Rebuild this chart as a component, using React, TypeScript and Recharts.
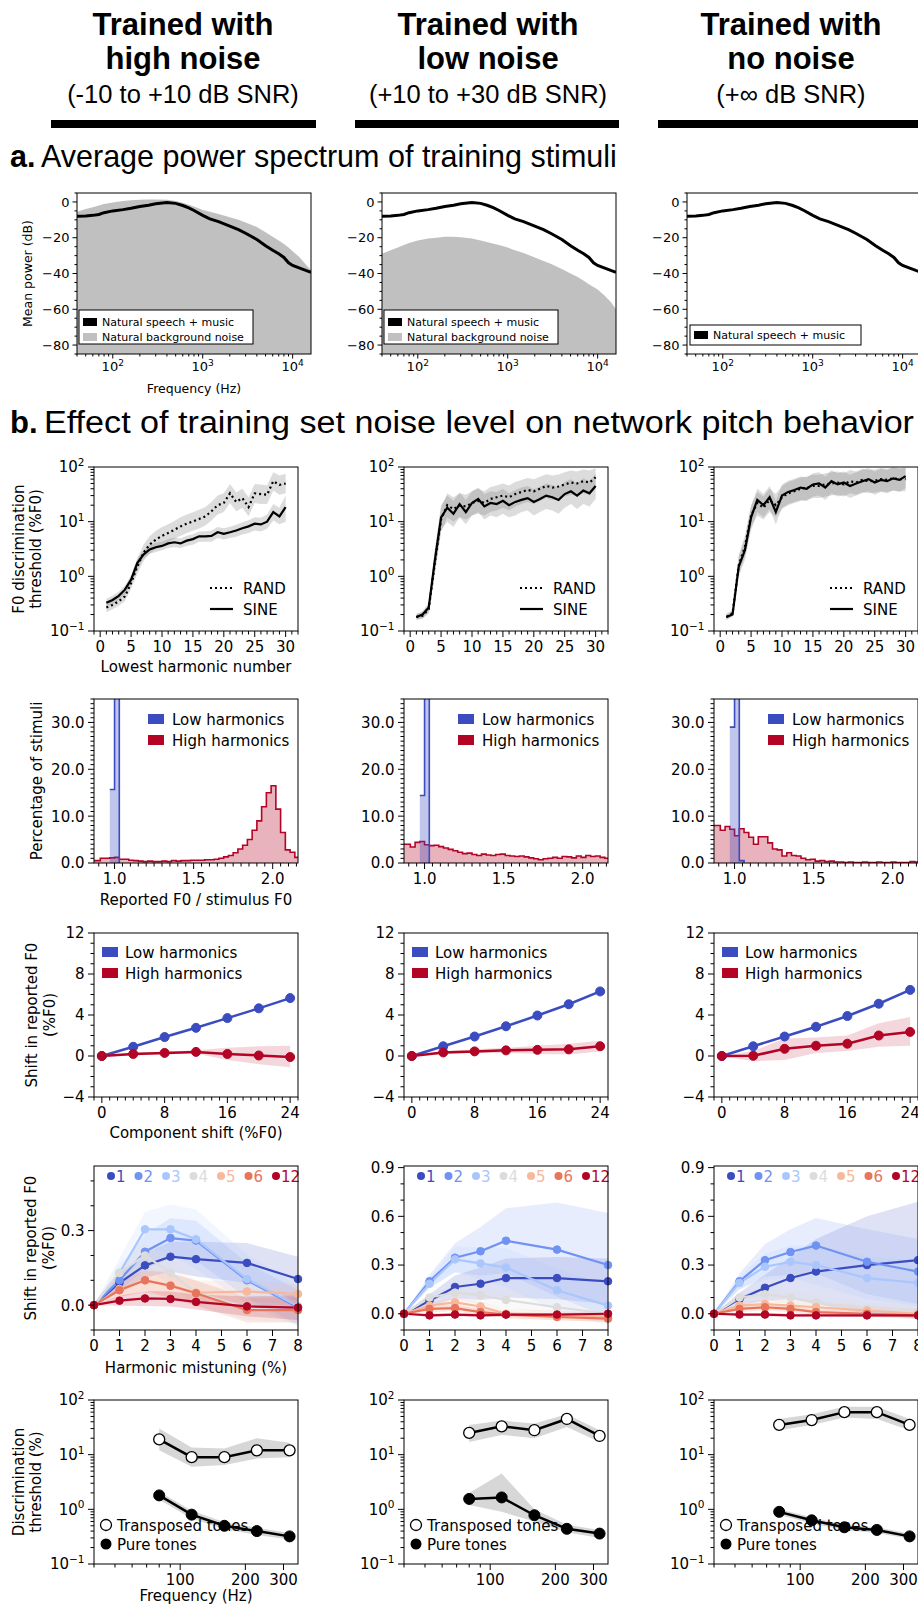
import React from 'react';
import { ComposedChart, Line, Area, XAxis, YAxis } from 'recharts';

const SANS = "'DejaVu Sans', Verdana, sans-serif";
const HEAD = "'Liberation Sans', Arial, Helvetica, sans-serif";
const BLUE = '#3b4cc0';
const RED = '#b40426';
const SILVER = '#c0c0c0';

// ---------- header ----------
const COL_TITLES = [
  ['Trained with', 'high noise', '(-10 to +10 dB SNR)'],
  ['Trained with', 'low noise', '(+10 to +30 dB SNR)'],
  ['Trained with', 'no noise', '(+\u221e dB SNR)'],
];

// ---------- a. power spectra ----------
const FREQ_A = [40, 50, 60, 70, 80, 100, 130, 160, 200, 250, 300, 400, 500, 600, 700, 800, 1000, 1200, 1500, 2000, 2500, 3000, 4000, 5000, 6000, 7000, 8000, 9000, 10000, 12000, 14000, 16000];
const SPEECH_DB = [-8, -7.8, -7.5, -7, -6, -5, -4.3, -3.5, -2.5, -1.8, -1, -0.3, -0.8, -2, -3.3, -4.8, -7.5, -9.5, -11, -13.5, -15.5, -17.5, -21, -24.5, -27, -29, -31, -34, -35.5, -37, -38.3, -39.3];
const NOISE_HIGH_DB = [-5.5, -4, -3, -2, -1.2, -0.3, 0.5, 1, 1.2, 1.3, 1.3, 1.2, 0.5, -0.5, -1.5, -2.5, -4.5, -5.5, -6.8, -8.5, -10, -11.5, -14, -17, -19.5, -21.5, -23.5, -25.5, -27.5, -31, -35, -38];
const NOISE_LOW_DB = [-29, -27, -25.5, -24, -23, -21.5, -20.5, -20, -19.5, -19.5, -19.7, -20.5, -21.5, -22.5, -23.3, -24, -25.5, -27, -28.5, -31, -33, -34.5, -37.5, -40, -42, -44, -46, -47.5, -49, -52.5, -56, -60];
const NOISE_DB = [NOISE_HIGH_DB, NOISE_LOW_DB, null];
const A_XMAJ = [100, 1000, 10000];
const A_YMAJ = [0, -20, -40, -60, -80];

// ---------- b1. thresholds vs lowest harmonic ----------
const HARM_N = [1, 2, 3, 4, 5, 6, 7, 8, 9, 10, 11, 12, 13, 14, 15, 16, 17, 18, 19, 20, 21, 22, 23, 24, 25, 26, 27, 28, 29, 30];
const SINE_1 = [0.33, 0.37, 0.44, 0.57, 0.87, 1.75, 2.5, 3.1, 3.4, 3.6, 4.0, 4.2, 4.0, 4.5, 4.8, 5.4, 5.4, 5.5, 6.4, 6.0, 6.4, 6.9, 7.6, 8.2, 9.2, 8.9, 10.0, 15.0, 12.5, 18.5];
const SINE_1_LO = [0.28, 0.31, 0.37, 0.47, 0.7, 1.4, 2.1, 2.6, 2.8, 3.0, 3.3, 3.4, 3.3, 3.6, 3.8, 4.3, 4.3, 4.3, 5.0, 4.7, 5.0, 5.3, 5.8, 6.2, 6.9, 6.6, 7.4, 10.5, 9.0, 10.0];
const SINE_1_HI = [0.39, 0.44, 0.52, 0.68, 1.05, 2.1, 3.0, 3.7, 4.1, 4.3, 4.8, 5.1, 4.9, 5.5, 5.9, 6.6, 6.7, 6.9, 8.0, 7.6, 8.1, 8.8, 9.8, 10.6, 12.0, 11.8, 13.5, 21.0, 18.0, 30.0];
const RAND_1 = [0.27, 0.30, 0.35, 0.43, 0.75, 1.5, 2.7, 3.8, 4.7, 5.5, 6.2, 7.1, 8.2, 9.2, 10.1, 11.2, 12.5, 15.5, 20, 22, 33, 23, 27, 18.5, 33, 32, 31, 55, 47, 50];
const RAND_1_LO = [0.22, 0.25, 0.29, 0.35, 0.6, 1.1, 1.9, 2.6, 3.2, 3.7, 4.2, 4.8, 5.5, 6.2, 6.8, 7.5, 8.5, 10.5, 13.5, 15, 22, 15.5, 18, 12.5, 22, 21, 21, 37, 31, 33];
const RAND_1_HI = [0.33, 0.37, 0.43, 0.53, 0.95, 2.1, 3.8, 5.4, 6.8, 8.0, 9.0, 10.3, 12.0, 13.5, 14.8, 16.5, 18.5, 23, 30, 33, 49, 34, 40, 28, 49, 48, 46, 80, 70, 75];
const SINE_2 = [0.18, 0.2, 0.27, 2.0, 12, 18, 14, 21, 15, 22, 26, 19, 22, 21, 24, 20, 23, 25, 27, 23, 26, 30, 28, 25, 32, 36, 30, 37, 33, 45];
const SINE_2_LO = [0.16, 0.17, 0.22, 1.2, 7, 10, 8, 12, 9, 13, 15, 11, 13, 12, 14, 12, 13, 15, 16, 13, 15, 17, 16, 14, 18, 21, 17, 21, 19, 26];
const SINE_2_HI = [0.2, 0.23, 0.33, 3.2, 20, 30, 24, 34, 25, 36, 42, 32, 36, 35, 40, 33, 38, 42, 45, 39, 44, 50, 47, 42, 54, 60, 50, 62, 55, 75];
const RAND_2 = [0.18, 0.19, 0.25, 1.8, 11, 20, 17, 20, 19, 22, 24, 22, 26, 28, 30, 28, 32, 35, 38, 36, 40, 45, 42, 44, 48, 52, 50, 55, 52, 65];
const RAND_2_LO = [0.16, 0.17, 0.21, 1.1, 6.5, 12, 10, 12, 11, 13, 14, 13, 15, 16, 18, 16, 19, 21, 23, 21, 24, 27, 25, 26, 29, 31, 30, 33, 31, 40];
const RAND_2_HI = [0.21, 0.22, 0.3, 3.0, 18, 33, 28, 33, 31, 36, 40, 36, 43, 46, 50, 46, 53, 58, 63, 60, 66, 74, 70, 73, 80, 86, 83, 90, 86, 95];
const SINE_3 = [0.18, 0.2, 1.5, 3.0, 12, 25, 20, 28, 15, 30, 35, 38, 42, 40, 48, 50, 42, 55, 48, 52, 45, 50, 55, 60, 52, 58, 55, 62, 58, 68];
const SINE_3_LO = [0.16, 0.18, 1.0, 2.0, 7, 15, 12, 17, 9, 18, 21, 23, 25, 24, 29, 30, 25, 33, 29, 31, 27, 30, 33, 36, 31, 35, 33, 37, 35, 41];
const SINE_3_HI = [0.2, 0.23, 2.3, 4.8, 19, 40, 32, 45, 24, 48, 56, 61, 67, 64, 77, 80, 67, 88, 77, 83, 72, 80, 88, 96, 83, 93, 88, 99, 93, 99];
const RAND_3 = [0.18, 0.21, 1.6, 3.5, 13, 22, 18, 25, 20, 28, 33, 36, 40, 42, 45, 45, 48, 50, 52, 48, 55, 52, 58, 55, 56, 60, 58, 62, 60, 60];
const RAND_3_LO = [0.16, 0.19, 1.1, 2.3, 8, 13, 11, 15, 12, 17, 20, 22, 24, 25, 27, 27, 29, 30, 31, 29, 33, 31, 35, 33, 34, 36, 35, 37, 36, 36];
const RAND_3_HI = [0.21, 0.24, 2.4, 5.5, 20, 35, 29, 40, 32, 45, 53, 58, 64, 67, 72, 72, 77, 80, 83, 77, 88, 83, 93, 88, 90, 96, 93, 99, 96, 96];
const SINE = [[SINE_1, SINE_1_LO, SINE_1_HI], [SINE_2, SINE_2_LO, SINE_2_HI], [SINE_3, SINE_3_LO, SINE_3_HI]];
const RAND = [[RAND_1, RAND_1_LO, RAND_1_HI], [RAND_2, RAND_2_LO, RAND_2_HI], [RAND_3, RAND_3_LO, RAND_3_HI]];
const LOG_MAJ = [0.1, 1, 10, 100];

// ---------- b2. histograms of reported F0 / stimulus F0 ----------
const HIST_START = 0.85;
const HIST_STEP = 0.03;
const HIGH_HIST_1 = [0.5, 0.5, 1.0, 1.0, 1.1, 1.2, 0.8, 0.8, 0.6, 0.5, 0.4, 0.3, 0.4, 0.3, 0.3, 0.4, 0.3, 0.5, 0.4, 0.5, 0.5, 0.6, 0.6, 0.6, 0.7, 0.7, 0.8, 1.0, 1.3, 1.6, 2.2, 3.0, 3.8, 5.0, 7.0, 9.0, 12.0, 15.0, 16.5, 11.5, 6.5, 2.8, 2.3, 1.2];
const HIGH_HIST_2 = [4.0, 4.0, 3.4, 4.4, 4.6, 3.9, 3.7, 3.8, 3.5, 3.2, 2.9, 2.6, 2.3, 2.0, 2.1, 1.8, 1.6, 1.9, 1.7, 1.6, 1.8, 1.9, 1.6, 1.5, 1.4, 1.5, 1.3, 1.1, 0.9, 0.7, 0.9, 1.0, 1.2, 1.0, 1.4, 1.3, 1.1, 1.5, 1.2, 1.6, 1.4, 1.5, 1.2, 1.0];
const HIGH_HIST_3 = [8.0, 8.0, 7.0, 7.8, 7.2, 5.8, 7.3, 6.5, 5.5, 4.0, 5.6, 5.6, 4.3, 3.0, 2.8, 1.5, 2.2, 1.6, 1.5, 1.0, 0.7, 0.8, 0.4, 0.5, 0.3, 0.4, 0.2, 0.2, 0.1, 0.2, 0.1, 0.1, 0.2, 0.1, 0.1, 0.2, 0.1, 0.1, 0.2, 0.1, 0.1, 0.1, 0.3, 0.2];
// low harmonics: [bin index, percentage] (all other bins empty)
const LOW_HIST_1 = [[4, 15.7], [5, 80], [6, 0]];
const LOW_HIST_2 = [[4, 14.4], [5, 80], [6, 0]];
const LOW_HIST_3 = [[4, 29], [5, 80], [6, 0.5], [7, 0]];
const HIGH_HIST = [HIGH_HIST_1, HIGH_HIST_2, HIGH_HIST_3];
const LOW_HIST = [LOW_HIST_1, LOW_HIST_2, LOW_HIST_3];

// ---------- b3. component shift ----------
const SHIFTS = [0, 4, 8, 12, 16, 20, 24];
const SHIFT_LOW = [
  [0, 0.9, 1.85, 2.75, 3.7, 4.65, 5.65],
  [0, 0.95, 1.9, 2.9, 3.95, 5.05, 6.3],
  [0, 0.95, 1.9, 2.85, 3.9, 5.1, 6.45],
];
const SHIFT_HIGH = [
  [0, 0.2, 0.3, 0.4, 0.2, 0.05, -0.1],
  [0, 0.35, 0.45, 0.55, 0.6, 0.65, 0.95],
  [0, 0.02, 0.7, 1.0, 1.2, 2.0, 2.35],
];
const SHIFT_HIGH_LO = [
  [0, 0.05, 0.15, 0.25, -0.4, -0.8, -1.1],
  [0, 0.2, 0.3, 0.3, 0.2, 0.15, 0.45],
  [0, -0.5, -0.4, 0.3, 0.5, 0.9, 1.0],
];
const SHIFT_HIGH_HI = [
  [0, 0.35, 0.45, 0.55, 0.8, 0.95, 1.0],
  [0, 0.5, 0.65, 0.8, 1.0, 1.2, 1.5],
  [0, 0.5, 1.7, 1.8, 2.0, 3.2, 3.8],
];

// ---------- b4. harmonic mistuning ----------
const MISTUNE = [0, 1, 2, 3, 4, 6, 8];
const HARM_LABELS = ['1', '2', '3', '4', '5', '6', '12'];
const HARM_COLORS = ['#3b4cc0', '#6f92f3', '#aac7fd', '#dddcdc', '#f7b89c', '#e7745b', '#b40426'];
const MIST_MEAN_1 = [
  [0, 0.09, 0.16, 0.195, 0.185, 0.17, 0.105],
  [0, 0.1, 0.215, 0.27, 0.26, 0.1, -0.01],
  [0, 0.13, 0.305, 0.305, 0.265, 0.105, -0.005],
  [0, 0.13, 0.2, 0.13, 0.05, -0.01, -0.02],
  [0, 0.065, 0.1, 0.08, 0.05, 0.055, 0.045],
  [0, 0.06, 0.1, 0.078, 0.048, -0.02, -0.02],
  [0, 0.018, 0.027, 0.025, 0.013, -0.005, -0.01],
];
const MIST_ERR_1 = [
  [0, 0.03, 0.05, 0.06, 0.07, 0.08, 0.09],
  [0, 0.04, 0.07, 0.08, 0.08, 0.07, 0.07],
  [0, 0.06, 0.07, 0.1, 0.12, 0.1, 0.08],
  [0, 0.04, 0.05, 0.05, 0.05, 0.05, 0.05],
  [0, 0.03, 0.05, 0.05, 0.05, 0.04, 0.04],
  [0, 0.03, 0.04, 0.05, 0.05, 0.05, 0.05],
  [0, 0.02, 0.03, 0.03, 0.03, 0.04, 0.05],
];
const MIST_MEAN_2 = [
  [0, 0.08, 0.165, 0.185, 0.22, 0.22, 0.2],
  [0, 0.2, 0.345, 0.385, 0.45, 0.395, 0.3],
  [0, 0.185, 0.335, 0.31, 0.285, 0.145, 0.05],
  [0, 0.1, 0.13, 0.115, 0.085, 0.04, 0.0],
  [0, 0.05, 0.07, 0.045, 0.0, -0.01, -0.02],
  [0, 0.03, 0.035, 0.01, -0.005, -0.02, -0.03],
  [0, -0.01, -0.005, -0.01, -0.005, -0.005, 0.0],
];
const MIST_ERR_2 = [
  [0, 0.04, 0.07, 0.1, 0.12, 0.13, 0.14],
  [0, 0.04, 0.09, 0.15, 0.2, 0.29, 0.32],
  [0, 0.03, 0.08, 0.1, 0.12, 0.13, 0.12],
  [0, 0.02, 0.04, 0.05, 0.05, 0.05, 0.05],
  [0, 0.02, 0.03, 0.03, 0.03, 0.03, 0.03],
  [0, 0.02, 0.02, 0.02, 0.02, 0.02, 0.02],
  [0, 0.01, 0.01, 0.01, 0.01, 0.01, 0.01],
];
const MIST_MEAN_3 = [
  [0, 0.09, 0.16, 0.22, 0.26, 0.3, 0.33],
  [0, 0.2, 0.33, 0.38, 0.42, 0.32, 0.26],
  [0, 0.19, 0.29, 0.32, 0.3, 0.22, 0.19],
  [0, 0.1, 0.12, 0.1, 0.07, 0.03, 0.01],
  [0, 0.05, 0.06, 0.05, 0.04, 0.02, 0.0],
  [0, 0.03, 0.04, 0.03, 0.01, 0.0, -0.01],
  [0, -0.005, -0.005, -0.01, -0.01, -0.01, -0.01],
];
const MIST_ERR_3 = [
  [0, 0.04, 0.08, 0.13, 0.2, 0.3, 0.36],
  [0, 0.05, 0.1, 0.14, 0.17, 0.2, 0.2],
  [0, 0.04, 0.08, 0.1, 0.12, 0.13, 0.14],
  [0, 0.03, 0.04, 0.04, 0.04, 0.04, 0.04],
  [0, 0.02, 0.03, 0.03, 0.03, 0.03, 0.03],
  [0, 0.02, 0.02, 0.02, 0.02, 0.02, 0.02],
  [0, 0.01, 0.01, 0.01, 0.01, 0.01, 0.01],
];
const MIST_MEAN = [MIST_MEAN_1, MIST_MEAN_2, MIST_MEAN_3];
const MIST_ERR = [MIST_ERR_1, MIST_ERR_2, MIST_ERR_3];
const MIST_YMAX = [0.56, 0.91, 0.91];
const MIST_YMAJ = [[0, 0.3], [0, 0.3, 0.6, 0.9], [0, 0.3, 0.6, 0.9]];

// ---------- b5. pure vs transposed tones ----------
const TONE_F = [80, 113, 160, 226, 320];
const TRANSPOSED = [[19, 9, 9, 12, 12], [25, 33, 28, 45, 22], [35, 43, 60, 60, 35]];
const TRANSPOSED_LO = [[12, 6, 6.5, 8.5, 9], [17, 23, 20, 32, 17], [28, 35, 48, 45, 28]];
const TRANSPOSED_HI = [[30, 13.5, 13, 20, 16.5], [35, 42, 37, 55, 28], [45, 55, 75, 75, 45]];
const PURE = [[1.8, 0.8, 0.5, 0.4, 0.32], [1.55, 1.65, 0.78, 0.44, 0.36], [0.9, 0.63, 0.47, 0.42, 0.32]];
const PURE_LO = [[1.5, 0.68, 0.43, 0.34, 0.28], [1.2, 0.9, 0.6, 0.38, 0.3], [0.8, 0.55, 0.42, 0.37, 0.29]];
const PURE_HI = [[2.1, 0.95, 0.58, 0.46, 0.37], [2.0, 4.5, 1.0, 0.52, 0.42], [1.0, 0.72, 0.52, 0.47, 0.36]];

// ---------- layout ----------
const PL = 70, PT = 12, PR = 12, PB = 40;
const A_LEFT = [77, 382, 687];
const A_TOP = 193, A_W = 234, A_H = 161;
const B_LEFT = [94, 404, 714];
const B_W = 204, B_H = 164;
const B_TOP = [467, 699, 933, 1166, 1400];

type TS = { fs: number; maj: number; min: number; gap: number };
const TS_A: TS = { fs: 13, maj: 4.5, min: 2.5, gap: 3 };
const TS_B: TS = { fs: 15, maj: 6, min: 3.5, gap: 3.5 };

const range = (a: number, b: number, s: number) => {
  const out: number[] = [];
  for (let i = 0; a + i * s <= b + 1e-9; i++) out.push(+(a + i * s).toFixed(4));
  return out;
};
const logTicks = (lo: number, hi: number) => {
  const out: number[] = [];
  for (let d = -2; d <= 5; d++) for (let k = 1; k <= 9; k++) {
    const v = +(k * Math.pow(10, d)).toPrecision(3);
    if (v >= lo - 1e-9 && v <= hi + 1e-9) out.push(v);
  }
  return out;
};
const isMajor = (majors: number[], v: number) => majors.some(m => Math.abs(m - v) <= 1e-9 + 1e-6 * Math.abs(m));

const minus = (v: number) => (v < 0 ? '\u2212' + String(-v) : String(v));
const fixed1 = (v: number) => (v < 0 ? '\u2212' + (-v).toFixed(1) : v.toFixed(1));
const pow10 = (fs: number) => (v: number) => {
  const e = Math.round(Math.log10(v));
  return (
    <>
      <tspan>10</tspan>
      <tspan dy={-0.42 * fs} fontSize={0.7 * fs}>{e < 0 ? '\u2212' + -e : String(e)}</tspan>
    </>
  );
};

function yTick(majors: number[], fmt: (v: number) => React.ReactNode, ts: TS) {
  return (p: any) => {
    const v = Number(p.payload.value);
    const maj = isMajor(majors, v);
    const len = maj ? ts.maj : ts.min;
    return (
      <g>
        <line x1={PL - len} x2={PL} y1={p.y} y2={p.y} stroke="#000" strokeWidth={1} />
        {maj ? (
          <text x={PL - len - ts.gap} y={p.y} dy="0.36em" textAnchor="end" fontFamily={SANS} fontSize={ts.fs} fill="#000">
            {fmt(v)}
          </text>
        ) : null}
      </g>
    );
  };
}

function xTick(majors: number[], fmt: (v: number) => React.ReactNode, ts: TS, h: number) {
  const bottom = PT + h;
  return (p: any) => {
    const v = Number(p.payload.value);
    const maj = isMajor(majors, v);
    const len = maj ? ts.maj : ts.min;
    return (
      <g>
        <line x1={p.x} x2={p.x} y1={bottom} y2={bottom + len} stroke="#000" strokeWidth={1} />
        {maj ? (
          <text x={p.x} y={bottom + len + ts.gap} dy="0.76em" textAnchor="middle" fontFamily={SANS} fontSize={ts.fs} fill="#000">
            {fmt(v)}
          </text>
        ) : null}
      </g>
    );
  };
}

function Panel({ x, y, w, h, data, overlay, children }: any) {
  const W = w + PL + PR;
  const H = h + PT + PB;
  return (
    <div style={{ position: 'absolute', left: x - PL, top: y - PT, width: W, height: H }}>
      <ComposedChart width={W} height={H} data={data} margin={{ top: PT, right: PR, left: 0, bottom: 0 }}>
        {children}
      </ComposedChart>
      <svg width={W} height={H} style={{ position: 'absolute', left: 0, top: 0, pointerEvents: 'none', overflow: 'visible' }}>
        {overlay}
        <rect x={PL} y={PT} width={w} height={h} fill="none" stroke="#000" strokeWidth={1} />
      </svg>
    </div>
  );
}

const lx = (dx: number) => PL + dx;
const ly = (dy: number) => PT + dy;

// ---------- a ----------
function PowerPanel({ col }: { col: number }) {
  const noise = NOISE_DB[col];
  const rows = FREQ_A.map((f, i) => ({ x: f, speech: SPEECH_DB[i], noise: noise ? [-85, noise[i]] : null }));
  const legend = noise ? (
    <g fontFamily={SANS} fontSize={11}>
      <rect x={lx(2)} y={ly(117)} width={174} height={34} fill="#fff" stroke="#000" strokeWidth={1} />
      <rect x={lx(6)} y={ly(125)} width={14} height={8} fill="#000" />
      <text x={lx(25)} y={ly(133)}>Natural speech + music</text>
      <rect x={lx(6)} y={ly(140)} width={14} height={8} fill={SILVER} />
      <text x={lx(25)} y={ly(148)}>Natural background noise</text>
    </g>
  ) : (
    <g fontFamily={SANS} fontSize={11}>
      <rect x={lx(3)} y={ly(132)} width={171} height={20} fill="#fff" stroke="#000" strokeWidth={1} />
      <rect x={lx(7)} y={ly(138)} width={14} height={8} fill="#000" />
      <text x={lx(26)} y={ly(146)}>Natural speech + music</text>
    </g>
  );
  return (
    <Panel x={A_LEFT[col]} y={A_TOP} w={A_W} h={A_H} data={rows} overlay={legend}>
      <XAxis dataKey="x" type="number" scale="log" domain={[40, 16000]} allowDataOverflow ticks={logTicks(40, 16000)} interval={0}
        tickLine={false} axisLine={false} height={PB} tick={xTick(A_XMAJ, pow10(TS_A.fs), TS_A, A_H)} />
      <YAxis type="number" domain={[-85, 5]} allowDataOverflow ticks={range(-85, 5, 5)} interval={0}
        tickLine={false} axisLine={false} width={PL} tick={yTick(A_YMAJ, minus, TS_A)} />
      {noise ? <Area dataKey="noise" type="linear" stroke="none" fill={SILVER} fillOpacity={1} isAnimationActive={false} /> : null}
      <Line dataKey="speech" type="linear" stroke="#000" strokeWidth={3} dot={false} isAnimationActive={false} />
    </Panel>
  );
}

// ---------- b1 ----------
function ThreshPanel({ col }: { col: number }) {
  const [s, sLo, sHi] = SINE[col];
  const [r, rLo, rHi] = RAND[col];
  const rows = HARM_N.map((n, i) => ({ x: n, sine: s[i], rand: r[i], sBand: [sLo[i], sHi[i]], rBand: [rLo[i], rHi[i]] }));
  const legend = (
    <g fontFamily={SANS} fontSize={15}>
      <line x1={lx(116)} x2={lx(139)} y1={ly(121)} y2={ly(121)} stroke="#000" strokeWidth={2.2} strokeDasharray="2 3" />
      <text x={lx(149)} y={ly(126.5)}>RAND</text>
      <line x1={lx(116)} x2={lx(139)} y1={ly(142)} y2={ly(142)} stroke="#000" strokeWidth={2.2} />
      <text x={lx(149)} y={ly(147.5)}>SINE</text>
    </g>
  );
  return (
    <Panel x={B_LEFT[col]} y={B_TOP[0]} w={B_W} h={B_H} data={rows} overlay={legend}>
      <XAxis dataKey="x" type="number" domain={[-1, 32]} allowDataOverflow ticks={range(-1, 32, 1)} interval={0}
        tickLine={false} axisLine={false} height={PB} tick={xTick(range(0, 30, 5), String, TS_B, B_H)} />
      <YAxis type="number" scale="log" domain={[0.1, 100]} allowDataOverflow ticks={logTicks(0.1, 100)} interval={0}
        tickLine={false} axisLine={false} width={PL} tick={yTick(LOG_MAJ, pow10(TS_B.fs), TS_B)} />
      <Area dataKey="rBand" type="linear" stroke="none" fill="#808080" fillOpacity={0.28} isAnimationActive={false} />
      <Area dataKey="sBand" type="linear" stroke="none" fill="#808080" fillOpacity={0.28} isAnimationActive={false} />
      <Line dataKey="rand" type="linear" stroke="#000" strokeWidth={2.2} strokeDasharray="2 3" dot={false} isAnimationActive={false} />
      <Line dataKey="sine" type="linear" stroke="#000" strokeWidth={2.2} dot={false} isAnimationActive={false} />
    </Panel>
  );
}

// ---------- b2 ----------
function HistPanel({ col }: { col: number }) {
  const high = HIGH_HIST[col];
  const low: (number | null)[] = high.map(() => null);
  LOW_HIST[col].forEach(([i, v]) => { low[i] = v; });
  const rows = high.map((v, i) => ({ x: +(HIST_START + HIST_STEP * i).toFixed(3), high: v, low: low[i] }));
  rows.push({ x: +(HIST_START + HIST_STEP * high.length).toFixed(3), high: high[high.length - 1], low: null });
  const legend = (
    <g fontFamily={SANS} fontSize={15}>
      <rect x={lx(54)} y={ly(15)} width={16} height={10} fill={BLUE} />
      <text x={lx(78)} y={ly(25.5)}>Low harmonics</text>
      <rect x={lx(54)} y={ly(36)} width={16} height={10} fill={RED} />
      <text x={lx(78)} y={ly(46.5)}>High harmonics</text>
    </g>
  );
  return (
    <Panel x={B_LEFT[col]} y={B_TOP[1]} w={B_W} h={B_H} data={rows} overlay={legend}>
      <XAxis dataKey="x" type="number" domain={[0.87, 2.16]} allowDataOverflow ticks={range(0.9, 2.15, 0.05)} interval={0}
        tickLine={false} axisLine={false} height={PB} tick={xTick([1, 1.5, 2], fixed1, TS_B, B_H)} />
      <YAxis type="number" domain={[0, 35]} allowDataOverflow ticks={range(0, 35, 1)} interval={0}
        tickLine={false} axisLine={false} width={PL} tick={yTick([0, 10, 20, 30], fixed1, TS_B)} />
      <Area dataKey="high" type="stepAfter" stroke={RED} strokeWidth={1.6} fill={RED} fillOpacity={0.3} isAnimationActive={false} />
      <Area dataKey="low" type="stepAfter" stroke={BLUE} strokeWidth={1.6} fill={BLUE} fillOpacity={0.32} isAnimationActive={false} />
    </Panel>
  );
}

// ---------- b3 ----------
function ShiftPanel({ col }: { col: number }) {
  const rows = SHIFTS.map((s, i) => ({
    x: s, low: SHIFT_LOW[col][i], high: SHIFT_HIGH[col][i],
    hBand: [SHIFT_HIGH_LO[col][i], SHIFT_HIGH_HI[col][i]],
  }));
  const legend = (
    <g fontFamily={SANS} fontSize={15}>
      <rect x={lx(8)} y={ly(14)} width={16} height={10} fill={BLUE} />
      <text x={lx(31)} y={ly(24.5)}>Low harmonics</text>
      <rect x={lx(8)} y={ly(35)} width={16} height={10} fill={RED} />
      <text x={lx(31)} y={ly(45.5)}>High harmonics</text>
    </g>
  );
  return (
    <Panel x={B_LEFT[col]} y={B_TOP[2]} w={B_W} h={B_H} data={rows} overlay={legend}>
      <XAxis dataKey="x" type="number" domain={[-1, 25]} ticks={range(-1, 25, 1)} interval={0}
        tickLine={false} axisLine={false} height={PB} tick={xTick([0, 8, 16, 24], String, TS_B, B_H)} />
      <YAxis type="number" domain={[-4, 12]} ticks={range(-4, 12, 1)} interval={0}
        tickLine={false} axisLine={false} width={PL} tick={yTick([-4, 0, 4, 8, 12], minus, TS_B)} />
      <Area dataKey="hBand" type="linear" stroke="none" fill={RED} fillOpacity={0.16} isAnimationActive={false} />
      <Line dataKey="low" type="linear" stroke={BLUE} strokeWidth={2.5} dot={{ r: 4.5, fill: BLUE, stroke: BLUE, strokeWidth: 1 }} isAnimationActive={false} />
      <Line dataKey="high" type="linear" stroke={RED} strokeWidth={2.5} dot={{ r: 4.5, fill: RED, stroke: RED, strokeWidth: 1 }} isAnimationActive={false} />
    </Panel>
  );
}

// ---------- b4 ----------
function MistunePanel({ col }: { col: number }) {
  const mean = MIST_MEAN[col];
  const err = MIST_ERR[col];
  const rows = MISTUNE.map((m, i) => {
    const row: any = { x: m };
    mean.forEach((series, k) => {
      row['m' + k] = series[i];
      row['b' + k] = [series[i] - err[k][i], series[i] + err[k][i]];
    });
    return row;
  });
  const ymax = MIST_YMAX[col];
  const legend = (
    <g fontFamily={SANS} fontSize={15}>
      {HARM_LABELS.map((lab, k) => (
        <g key={lab}>
          <circle cx={lx(17 + 27.5 * k)} cy={ly(10)} r={4} fill={HARM_COLORS[k]} />
          <text x={lx(22 + 27.5 * k)} y={ly(15.5)} fill={HARM_COLORS[k]}>{lab}</text>
        </g>
      ))}
    </g>
  );
  return (
    <Panel x={B_LEFT[col]} y={B_TOP[3]} w={B_W} h={B_H} data={rows} overlay={legend}>
      <XAxis dataKey="x" type="number" domain={[0, 8]} ticks={range(0, 8, 1)} interval={0}
        tickLine={false} axisLine={false} height={PB} tick={xTick(range(0, 8, 1), String, TS_B, B_H)} />
      <YAxis type="number" domain={[-0.1, ymax]} ticks={range(-0.1, ymax, 0.1)} interval={0}
        tickLine={false} axisLine={false} width={PL} tick={yTick(MIST_YMAJ[col], fixed1, TS_B)} />
      {mean.map((_, k) => (
        <Area key={'b' + k} dataKey={'b' + k} type="linear" stroke="none" fill={HARM_COLORS[k]} fillOpacity={0.16} isAnimationActive={false} />
      ))}
      {mean.map((_, k) => (
        <Line key={'m' + k} dataKey={'m' + k} type="linear" stroke={HARM_COLORS[k]} strokeWidth={2.2}
          dot={{ r: 3.8, fill: HARM_COLORS[k], stroke: HARM_COLORS[k], strokeWidth: 1 }} isAnimationActive={false} />
      ))}
    </Panel>
  );
}

// ---------- b5 ----------
function TonePanel({ col }: { col: number }) {
  const rows = TONE_F.map((f, i) => ({
    x: f, tr: TRANSPOSED[col][i], pu: PURE[col][i],
    trBand: [TRANSPOSED_LO[col][i], TRANSPOSED_HI[col][i]],
    puBand: [PURE_LO[col][i], PURE_HI[col][i]],
  }));
  const legend = (
    <g fontFamily={SANS} fontSize={15}>
      <circle cx={lx(12)} cy={ly(125)} r={5.5} fill="#fff" stroke="#000" strokeWidth={1.3} />
      <text x={lx(23)} y={ly(130.5)}>Transposed tones</text>
      <circle cx={lx(12)} cy={ly(144)} r={5.5} fill="#000" />
      <text x={lx(23)} y={ly(149.5)}>Pure tones</text>
    </g>
  );
  return (
    <Panel x={B_LEFT[col]} y={B_TOP[4]} w={B_W} h={B_H} data={rows} overlay={legend}>
      <XAxis dataKey="x" type="number" scale="log" domain={[40, 350]} allowDataOverflow ticks={[40, 50, 60, 70, 80, 90, 100, 200, 300]} interval={0}
        tickLine={false} axisLine={false} height={PB} tick={xTick([100, 200, 300], String, TS_B, B_H)} />
      <YAxis type="number" scale="log" domain={[0.1, 100]} allowDataOverflow ticks={logTicks(0.1, 100)} interval={0}
        tickLine={false} axisLine={false} width={PL} tick={yTick(LOG_MAJ, pow10(TS_B.fs), TS_B)} />
      <Area dataKey="trBand" type="linear" stroke="none" fill="#bdbdbd" fillOpacity={0.6} isAnimationActive={false} />
      <Area dataKey="puBand" type="linear" stroke="none" fill="#bdbdbd" fillOpacity={0.6} isAnimationActive={false} />
      <Line dataKey="tr" type="linear" stroke="#000" strokeWidth={2.5} dot={{ r: 5.5, fill: '#fff', stroke: '#000', strokeWidth: 1.3 }} isAnimationActive={false} />
      <Line dataKey="pu" type="linear" stroke="#000" strokeWidth={2.5} dot={{ r: 5.5, fill: '#000', stroke: '#000', strokeWidth: 1 }} isAnimationActive={false} />
    </Panel>
  );
}

function VLabel({ x, y, lines, fs }: { x: number[]; y: number; lines: string[]; fs: number }) {
  return (
    <>
      {lines.map((t, i) => (
        <text key={t} transform={`translate(${x[i]},${y}) rotate(-90)`} textAnchor="middle" dy="0.36em" fontFamily={SANS} fontSize={fs}>{t}</text>
      ))}
    </>
  );
}

function PageText() {
  const centers = [183, 488, 791];
  const bars = [[51, 265], [355, 264], [658, 262]];
  const bx = B_LEFT[0] + B_W / 2;
  return (
    <svg width={918} height={1610} style={{ position: 'absolute', left: 0, top: 0, pointerEvents: 'none' }}>
      {COL_TITLES.map((t, c) => (
        <g key={c} fontFamily={HEAD} textAnchor="middle" fill="#000">
          <text x={centers[c]} y={35} fontSize={31} fontWeight="bold">{t[0]}</text>
          <text x={centers[c]} y={69} fontSize={31} fontWeight="bold">{t[1]}</text>
          <text x={centers[c]} y={103} fontSize={25.5}>{t[2]}</text>
        </g>
      ))}
      {bars.map(([x, w], i) => <rect key={i} x={x} y={120} width={w} height={8} fill="#000" />)}
      <text x={10} y={167} fontFamily={HEAD} fontSize={30.5}>
        <tspan fontWeight="bold">a.</tspan><tspan x={41}>Average power spectrum of training stimuli</tspan>
      </text>
      <text x={10} y={433} fontFamily={HEAD} fontSize={31}>
        <tspan fontWeight="bold">b.</tspan>
        <tspan x={44} textLength={870} lengthAdjust="spacingAndGlyphs">Effect of training set noise level on network pitch behavior</tspan>
      </text>

      <VLabel x={[27]} y={A_TOP + A_H / 2} lines={['Mean power (dB)']} fs={12.5} />
      <text x={A_LEFT[0] + A_W / 2} y={393} textAnchor="middle" fontFamily={SANS} fontSize={12.5}>Frequency (Hz)</text>

      <VLabel x={[19, 36]} y={B_TOP[0] + B_H / 2} lines={['F0 discrimination', 'threshold (%F0)']} fs={15} />
      <text x={bx} y={672} textAnchor="middle" fontFamily={SANS} fontSize={15}>Lowest harmonic number</text>

      <VLabel x={[37]} y={B_TOP[1] + B_H / 2} lines={['Percentage of stimuli']} fs={15} />
      <text x={bx} y={905} textAnchor="middle" fontFamily={SANS} fontSize={15}>Reported F0 / stimulus F0</text>

      <VLabel x={[32, 50]} y={B_TOP[2] + B_H / 2} lines={['Shift in reported F0', '(%F0)']} fs={15} />
      <text x={bx} y={1138} textAnchor="middle" fontFamily={SANS} fontSize={15}>Component shift (%F0)</text>

      <VLabel x={[31, 49]} y={B_TOP[3] + B_H / 2} lines={['Shift in reported F0', '(%F0)']} fs={15} />
      <text x={bx} y={1373} textAnchor="middle" fontFamily={SANS} fontSize={15}>Harmonic mistuning (%)</text>

      <VLabel x={[19, 36]} y={B_TOP[4] + B_H / 2} lines={['Discrimination', 'threshold (%)']} fs={15} />
      <text x={bx} y={1601} textAnchor="middle" fontFamily={SANS} fontSize={15}>Frequency (Hz)</text>
    </svg>
  );
}

export default function App() {
  const cols = [0, 1, 2];
  return (
    <div style={{ position: 'absolute', left: 0, top: 0, width: 918, height: 1610, overflow: 'hidden', background: '#fff' }}>
      {cols.map(c => <PowerPanel key={'a' + c} col={c} />)}
      {cols.map(c => <ThreshPanel key={'t' + c} col={c} />)}
      {cols.map(c => <HistPanel key={'h' + c} col={c} />)}
      {cols.map(c => <ShiftPanel key={'s' + c} col={c} />)}
      {cols.map(c => <MistunePanel key={'m' + c} col={c} />)}
      {cols.map(c => <TonePanel key={'p' + c} col={c} />)}
      <PageText />
    </div>
  );
}
